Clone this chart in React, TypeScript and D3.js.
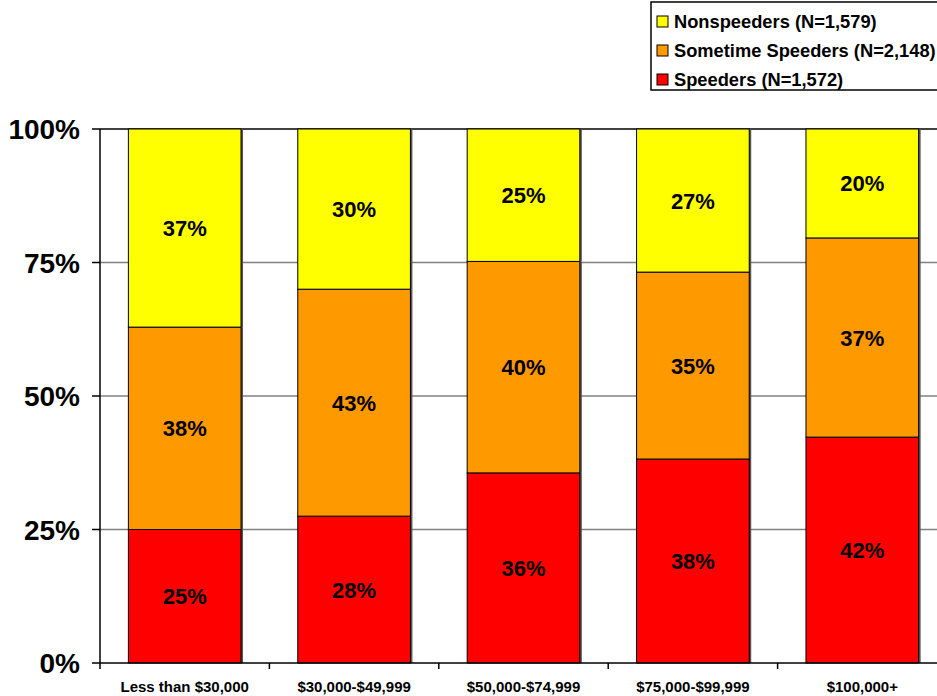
import React from "react";
import * as d3 from "d3";

const categories = ["Less than $30,000", "$30,000-$49,999", "$50,000-$74,999", "$75,000-$99,999", "$100,000+"];
const speeders = [25.0, 27.5, 35.6, 38.2, 42.3];
const sometime = [37.9, 42.5, 39.6, 35.0, 37.3];
const nonspeeders = [37.1, 30.0, 24.8, 26.8, 20.4];
const yTicks = [0, 25, 50, 75, 100];
const seriesNames = ["Speeders (N=1,572)", "Sometime Speeders (N=2,148)", "Nonspeeders (N=1,579)"];
const seriesColors = ["#FF0000", "#FF9900", "#FFFF00"];

export default function App() {
  const W = 937, H = 696;
  const left = 100, right = 947, top = 129, bottom = 663;
  const x = d3.scaleBand<string>().domain(categories).range([left, right]).paddingInner(0.335).paddingOuter(0.1675);
  const y = d3.scaleLinear().domain([0, 100]).range([bottom, top]);
  const rows = categories.map((c, i) => ({ cat: c, speeders: speeders[i], sometime: sometime[i], nonspeeders: nonspeeders[i] }));
  const stack = d3.stack<any>().keys(["speeders", "sometime", "nonspeeders"])(rows);
  const font = "'Liberation Sans', Arial, sans-serif";
  const legendOrder = [2, 1, 0];
  return (
    <svg width={W} height={H} style={{ position: "absolute", left: 0, top: 0, fontFamily: font }}>
      <rect x={0} y={0} width={W} height={H} fill="#fff" />
      {yTicks.filter(t => t > 0 && t < 100).map(t => (
        <line key={t} x1={left} x2={W} y1={y(t)} y2={y(t)} stroke="#808080" strokeWidth={1.5} />
      ))}
      <line x1={left} x2={W} y1={y(100)} y2={y(100)} stroke="#000" strokeWidth={1.5} />
      {stack.map((s, si) => (
        <g key={si}>
          {s.map((d, i) => (
            <g key={i}>
              <rect x={x(categories[i])! + 2} y={y(d[1])} width={x.bandwidth()} height={y(d[0]) - y(d[1])} fill="#555" />
              <rect x={x(categories[i])!} y={y(d[1])} width={x.bandwidth()} height={y(d[0]) - y(d[1])} fill={seriesColors[si]} stroke="#000" strokeWidth={1} />
            </g>
          ))}
        </g>
      ))}
      {stack.map((s, si) => s.map((d, i) => (
        <text key={si + "-" + i} x={x(categories[i])! + x.bandwidth() / 2} y={y((d[0] + d[1]) / 2) + 8} textAnchor="middle" fontSize={22} fontWeight="bold" fill="#000">
          {Math.round(d[1] - d[0])}%
        </text>
      )))}
      <line x1={left} x2={left} y1={top} y2={bottom} stroke="#000" strokeWidth={1.5} />
      <line x1={left} x2={W} y1={bottom} y2={bottom} stroke="#000" strokeWidth={1.5} />
      {yTicks.map(t => (
        <g key={t}>
          <line x1={left - 8} x2={left} y1={y(t)} y2={y(t)} stroke="#000" strokeWidth={1.5} />
          <text x={80} y={y(t) + 10} textAnchor="end" fontSize={28} fontWeight="bold">{t}%</text>
        </g>
      ))}
      {categories.map((c, i) => (
        <g key={c}>
          <line x1={left + i * x.step()} x2={left + i * x.step()} y1={bottom} y2={bottom + 6} stroke="#000" strokeWidth={1.5} />
          <text x={x(c)! + x.bandwidth() / 2} y={692} textAnchor="middle" fontSize={15} fontWeight="bold">{c}</text>
        </g>
      ))}
      <rect x={651} y={2} width={300} height={88} fill="#fff" stroke="#000" strokeWidth={1.5} />
      {legendOrder.map((si, k) => (
        <g key={si}>
          <rect x={657} y={16 + k * 29} width={11} height={11} fill={seriesColors[si]} stroke="#000" strokeWidth={1} />
          <text x={674} y={28 + k * 29} fontSize={18.3} fontWeight="bold">{seriesNames[si]}</text>
        </g>
      ))}
    </svg>
  );
}
